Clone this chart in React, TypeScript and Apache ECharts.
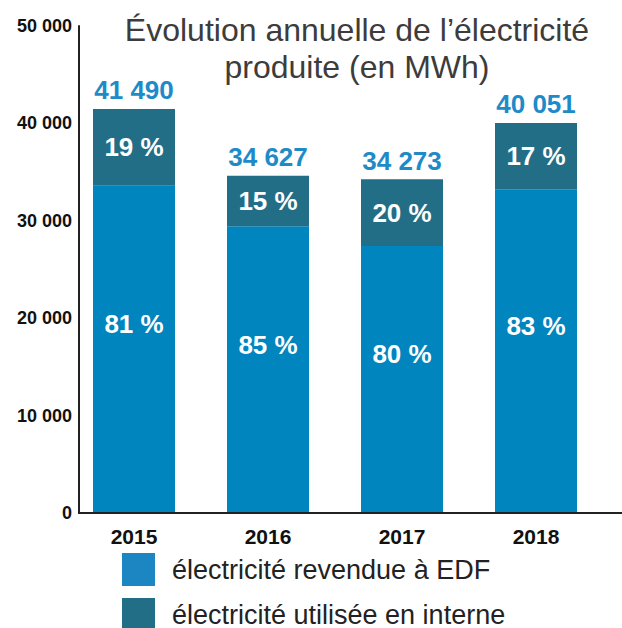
import React, { useEffect, useRef } from "react";
import * as echarts from "echarts";

const years = ["2015", "2016", "2017", "2018"];
const totals = [41490, 34627, 34273, 40051];
const pctSold = [81, 85, 80, 83];
const pctInternal = [19, 15, 20, 17];
const yTicks = [0, 10000, 20000, 30000, 40000, 50000];
const seriesNames = ["électricité revendue à EDF", "électricité utilisée en interne"];
const titleText = "Évolution annuelle de l’électricité\nproduite (en MWh)";

const FONT = "'Liberation Sans', Arial, Helvetica, sans-serif";
const fmt = (v: number) => String(v).replace(/\B(?=(\d{3})+(?!\d))/g, " ");

export default function App() {
  const ref = useRef<HTMLDivElement>(null);
  useEffect(() => {
    if (!ref.current) return;
    const chart = echarts.init(ref.current, null, { renderer: "svg" });
    const sold = totals.map((t, i) => (t * pctSold[i]) / 100);
    const internal = totals.map((t, i) => (t * pctInternal[i]) / 100);
    chart.setOption({
      animation: false,
      backgroundColor: "#ffffff",
      textStyle: { fontFamily: FONT },
      title: {
        text: titleText,
        left: 352,
        top: 6,
        textAlign: "center",
        textStyle: { fontFamily: FONT, fontSize: 32, fontWeight: "normal", color: "#3c3c3c", lineHeight: 37 },
      },
      legend: {
        orient: "vertical",
        left: 122,
        top: 553,
        height: 120,
        padding: 0,
        itemWidth: 33,
        itemHeight: 33,
        itemGap: 12,
        icon: "rect",
        data: seriesNames,
        textStyle: { fontFamily: FONT, fontSize: 27, lineHeight: 30, color: "#222", padding: [0, 0, 0, 12] },
      },
      grid: { left: 67, width: 536, top: 26, bottom: 628 - 513, containLabel: false },
      xAxis: {
        type: "category",
        data: years,
        axisLine: { show: false },
        axisTick: { show: false },
        axisLabel: { margin: 13, fontFamily: FONT, fontSize: 21, fontWeight: "bold", color: "#111" },
      },
      yAxis: {
        type: "value",
        min: yTicks[0],
        max: yTicks[yTicks.length - 1],
        interval: 10000,
        offset: -12,
        axisLine: { show: true, lineStyle: { color: "#222", width: 2 } },
        axisTick: { show: false },
        splitLine: { show: false },
        axisLabel: { margin: 7, fontFamily: FONT, fontSize: 18, fontWeight: "bold", color: "#111", formatter: (v: number) => fmt(v) },
      },
      graphic: [
        { type: "line", shape: { x1: 78, y1: 513, x2: 622, y2: 513 }, style: { stroke: "#222", lineWidth: 2 }, z: 10 },
      ],
      series: [
        {
          name: seriesNames[0],
          type: "bar",
          stack: "t",
          barWidth: 82,
          color: "#1b86c2",
          data: sold.map((v) => ({ value: v, itemStyle: { color: "#0085bf" } })),
          label: {
            show: true,
            position: "inside",
            offset: [0, -25],
            color: "#fff",
            fontFamily: FONT,
            fontSize: 26,
            fontWeight: "bold",
            formatter: (p: any) => pctSold[p.dataIndex] + " %",
          },
        },
        {
          name: seriesNames[1],
          type: "bar",
          stack: "t",
          barWidth: 82,
          color: "#236e87",
          data: internal,
          label: {
            show: true,
            position: "inside",
            color: "#fff",
            fontFamily: FONT,
            fontSize: 26,
            fontWeight: "bold",
            formatter: (p: any) => pctInternal[p.dataIndex] + " %",
          },
        },
        {
          name: "total",
          type: "scatter",
          symbolSize: 1,
          itemStyle: { color: "rgba(255,255,255,0)", opacity: 1 },
          data: totals,
          label: {
            show: true,
            position: "top",
            distance: 5,
            color: "#1e8bc8",
            opacity: 1,
            fontFamily: FONT,
            fontSize: 26,
            fontWeight: "bold",
            formatter: (p: any) => fmt(totals[p.dataIndex]),
          },
        },
      ],
    });
    return () => chart.dispose();
  }, []);
  return (
    <div
      ref={ref}
      style={{ position: "fixed", left: 0, top: 0, width: 622, height: 628, background: "#fff" }}
    />
  );
}
